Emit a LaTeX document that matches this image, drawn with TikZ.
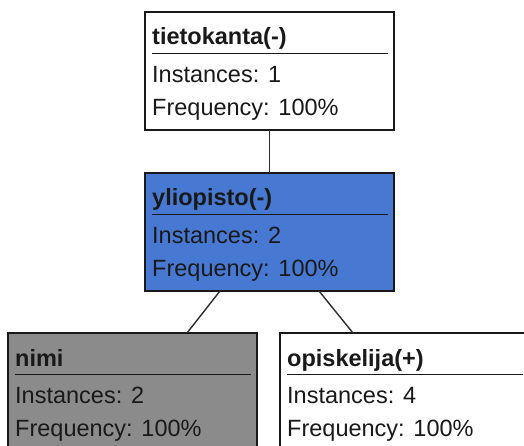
\documentclass[tikz,border=0pt]{standalone}
\usepackage{fontspec}
\setmainfont{Liberation Sans}
\usetikzlibrary{calc}

\definecolor{boxblue}{RGB}{72,121,210}
\definecolor{boxgray}{RGB}{139,139,139}
\definecolor{inkdark}{RGB}{25,25,25}
\definecolor{edgeink}{RGB}{45,45,45}

\tikzset{
  classbox/.style={draw=inkdark, line width=1.6pt, rectangle, anchor=north west,
    minimum width=249pt, minimum height=118pt, inner sep=0pt, outer sep=0pt},
  titletext/.style={anchor=base west, inner sep=0pt, font=\fontsize{23.5}{28}\selectfont\bfseries, text=inkdark},
  infotext/.style={anchor=base west, inner sep=0pt, font=\fontsize{23.5}{28}\selectfont, text=inkdark},
  rule/.style={draw=inkdark, line width=1.8pt},
  link/.style={draw=edgeink, line width=1.4pt}
}

% one class box: name, top-left corner, fill, title, instances
\newcommand{\classcard}[5]{%
  \node[classbox, fill=#3] (#1) at (#2) {};
  \node[titletext] (#1-title) at ($(#1.north west)+(7,33)$) {#4};
  \draw[rule] ($(#1.north west)+(7,41.5)$) -- ($(#1.north east)+(-6,41.5)$);
  \node[infotext] (#1-inst) at ($(#1.north west)+(7,70.5)$) {Instances: #5};
  \node[infotext] (#1-freq) at ($(#1.north west)+(7,103.5)$) {Frequency: 100\%};
}

\begin{document}
\begin{tikzpicture}[x=1pt,y=-1pt]
\clip (0,0) rectangle (524,446);
\fill[white] (0,0) rectangle (524,446);

\classcard{tk}{145,12}{white}{tietokanta(-)}{1}
\classcard{yl}{145,173}{boxblue}{yliopisto(-)}{2}
\classcard{nimi}{8,333}{boxgray}{nimi}{2}
\classcard{op}{280,333}{white}{opiskelija(+)}{4}

% tree edges
\draw[link] (tk.south) -- (yl.north);
\coordinate (yl-l) at ($(yl.south west)+(75,0)$);
\coordinate (yl-r) at ($(yl.south west)+(174,0)$);
\coordinate (nimi-top) at ($(nimi.north west)+(179,0)$);
\coordinate (op-top) at ($(op.north west)+(73,0)$);
\draw[link] (yl-l) -- (nimi-top);
\draw[link] (yl-r) -- (op-top);
\end{tikzpicture}
\end{document}
